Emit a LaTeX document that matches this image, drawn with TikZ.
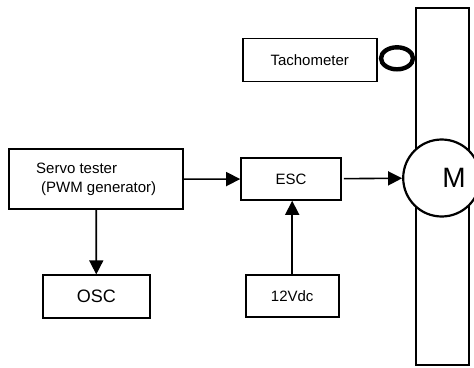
\documentclass[tikz,border=0pt]{standalone}
\usepackage{fontspec}
\setmainfont{Liberation Sans}
\usetikzlibrary{positioning}
\usetikzlibrary{arrows.meta}
\usetikzlibrary{shapes.geometric}

\begin{document}
\begin{tikzpicture}[x=1pt,y=-1pt,->,>={Triangle[length=14pt,width=14pt]},line width=1.6pt]
        \tikzset{block/.style={shape=rectangle,draw,line width=1.6pt,inner sep=0pt,font=\fontsize{15}{19}\selectfont}}
        \useasboundingbox (0,0) rectangle (474,367);

        \node[block,minimum width=53pt,minimum height=357pt,line width=2pt] (shaft) at (442,186) {};
        \node[shape=circle,draw,fill=white,line width=2.2pt,minimum size=77pt,inner sep=0pt] (motor) at (441.7,178) {};
        \node[font=\fontsize{28}{30}\selectfont] (mlabel) at (454,178) {M};
        \node[shape=ellipse,draw,line width=4.4pt,minimum width=32pt,minimum height=22pt,inner sep=0pt] (ring) at (397,58.3) {};

        \node[block,minimum width=134pt,minimum height=43pt] (tacho) at (309.7,60) {Tachometer};
        \node[block,minimum width=174pt,minimum height=60pt,align=left] (servo) at (96.2,179.2) {Servo tester\\\hspace{5pt}(PWM generator)};
        \node[block,minimum width=100pt,minimum height=42pt] (esc) at (291,179) {ESC};
        \node[block,minimum width=107pt,minimum height=43pt,font=\fontsize{18}{20}\selectfont] (osc) at (96.3,296.7) {OSC};
        \node[block,minimum width=93pt,minimum height=42pt] (vdc) at (292.2,296) {12Vdc};

        \path (servo) edge (esc);
        \path (esc) edge[shorten <=2pt] (motor);
        \path (servo) edge (osc);
        \path (vdc.north) edge (vdc.north |- esc.south);
    \end{tikzpicture}
\end{document}
